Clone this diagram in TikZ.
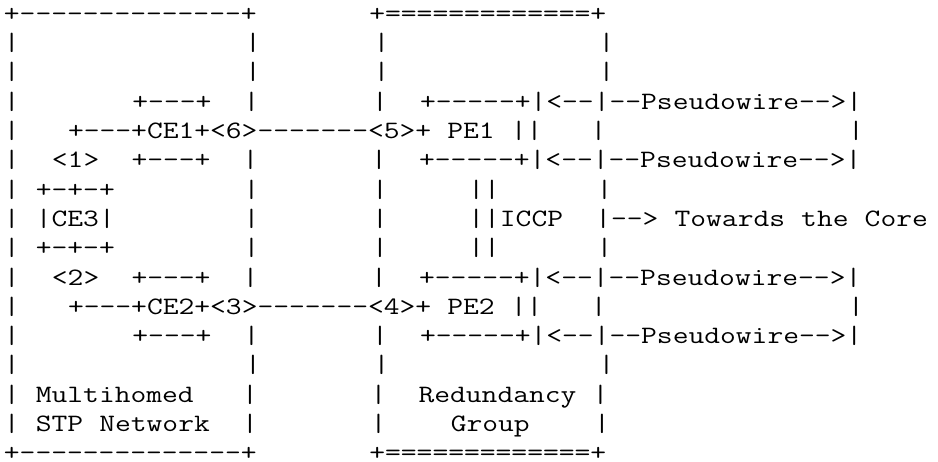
\documentclass[tikz,border=0pt]{standalone}
\usepackage{graphicx}
\newcommand\gap[1]{\hspace*{\dimexpr13.125pt*#1\relax}}
\newcommand\row[1]{\scalebox{1.22652}[1]{#1}}
\tikzset{
  asciirow/.style={anchor=base west, inner sep=0pt, outer sep=0pt, text depth=0pt,
    font=\ttfamily\fontsize{25pt}{29.3pt}\selectfont, text=black}
}
\begin{document}
\begin{tikzpicture}[x=16.098pt,y=-29.3pt]
\fill[white] (-0.2453,-0.727) rectangle (58.016,15.007);
\useasboundingbox (-0.2453,-0.727) rectangle (58.016,15.007);
\node[asciirow] (l0)  at (0,0)  {\row{+--------------+\gap{7}+=============+}};
\node[asciirow] (l1)  at (0,1)  {\row{|\gap{14}|\gap{7}|\gap{13}|}};
\node[asciirow] (l2)  at (0,2)  {\row{|\gap{14}|\gap{7}|\gap{13}|}};
\node[asciirow] (l3)  at (0,3)  {\row{|\gap{7}+---+\gap{2}|\gap{7}|\gap{2}+-----+|<--|--Pseudowire-->|}};
\node[asciirow] (l4)  at (0,4)  {\row{|\gap{3}+---+CE1+<6>-------<5>+\gap{1}PE1\gap{1}||\gap{3}|\gap{15}|}};
\node[asciirow] (l5)  at (0,5)  {\row{|\gap{2}<1>\gap{2}+---+\gap{2}|\gap{7}|\gap{2}+-----+|<--|--Pseudowire-->|}};
\node[asciirow] (l6)  at (0,6)  {\row{|\gap{1}+-+-+\gap{8}|\gap{7}|\gap{5}||\gap{6}|}};
\node[asciirow] (l7)  at (0,7)  {\row{|\gap{1}|CE3|\gap{8}|\gap{7}|\gap{5}||ICCP\gap{2}|-->\gap{1}Towards\gap{1}the\gap{1}Core}};
\node[asciirow] (l8)  at (0,8)  {\row{|\gap{1}+-+-+\gap{8}|\gap{7}|\gap{5}||\gap{6}|}};
\node[asciirow] (l9)  at (0,9)  {\row{|\gap{2}<2>\gap{2}+---+\gap{2}|\gap{7}|\gap{2}+-----+|<--|--Pseudowire-->|}};
\node[asciirow] (l10) at (0,10) {\row{|\gap{3}+---+CE2+<3>-------<4>+\gap{1}PE2\gap{1}||\gap{3}|\gap{15}|}};
\node[asciirow] (l11) at (0,11) {\row{|\gap{7}+---+\gap{2}|\gap{7}|\gap{2}+-----+|<--|--Pseudowire-->|}};
\node[asciirow] (l12) at (0,12) {\row{|\gap{14}|\gap{7}|\gap{13}|}};
\node[asciirow] (l13) at (0,13) {\row{|\gap{1}Multihomed\gap{3}|\gap{7}|\gap{2}Redundancy\gap{1}|}};
\node[asciirow] (l14) at (0,14) {\row{|\gap{1}STP\gap{1}Network\gap{2}|\gap{7}|\gap{4}Group\gap{4}|}};
\node[asciirow] (l15) at (0,15) {\row{+--------------+\gap{7}+=============+}};
\end{tikzpicture}
\end{document}
